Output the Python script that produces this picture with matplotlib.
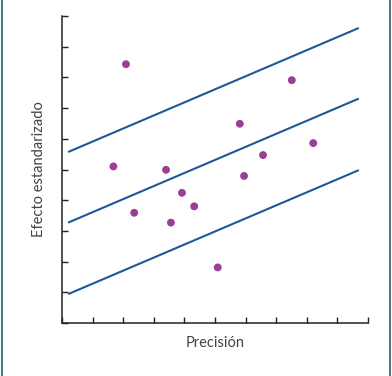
import matplotlib
matplotlib.use('Agg')
import matplotlib.pyplot as plt
from matplotlib.lines import Line2D

# puntos (precision, efecto estandarizado)
precision = [2.09, 1.68, 3.40, 3.92, 2.36, 4.32, 3.56, 7.51, 5.81, 8.21, 6.57, 5.95, 5.09]
efecto = [8.43, 5.10, 4.99, 4.24, 3.59, 3.80, 3.27, 7.91, 6.49, 5.86, 5.47, 4.79, 1.81]

# rectas (extremos)
line_x = [0.2, 9.7]
upper_y = [5.57, 9.61]
middle_y = [3.27, 7.31]
lower_y = [0.94, 4.98]

ticks = list(range(0, 11))

plt.rcParams['font.family'] = ['Lato', 'DejaVu Sans']

fig = plt.figure(figsize=(3.92, 3.76), dpi=100)
ax = fig.add_axes([62 / 392, 53 / 376, 306 / 392, 307 / 376])

line_color = '#1f5896'
for ys in (upper_y, middle_y, lower_y):
    ax.plot(line_x, ys, color=line_color, linewidth=1.5, solid_capstyle='butt')

ax.scatter(precision, efecto, s=32, color='#9a3e98', edgecolors='none', zorder=3)

ax.set_xlim(0, 10)
ax.set_ylim(0, 10)
ax.set_xticks(ticks)
ax.set_yticks(ticks)
ax.set_xticklabels([])
ax.set_yticklabels([])
ax.tick_params(direction='in', length=4.5, width=1, color='#222222')

for side in ('top', 'right'):
    ax.spines[side].set_visible(False)
for side in ('left', 'bottom'):
    ax.spines[side].set_linewidth(1.1)
    ax.spines[side].set_color('#222222')

ax.set_xlabel('Precisión', fontsize=10.5, color='#444444', labelpad=6)
ax.set_ylabel('Efecto estandarizado', fontsize=10.5, color='#444444', labelpad=8)

# marco lateral
border = '#1e5f78'
fig.add_artist(Line2D([1.5 / 392, 1.5 / 392], [0, 1], color=border, linewidth=1.2))
fig.add_artist(Line2D([390 / 392, 390 / 392], [0, 1], color=border, linewidth=1.2))

fig.savefig('out.png', dpi=100)
